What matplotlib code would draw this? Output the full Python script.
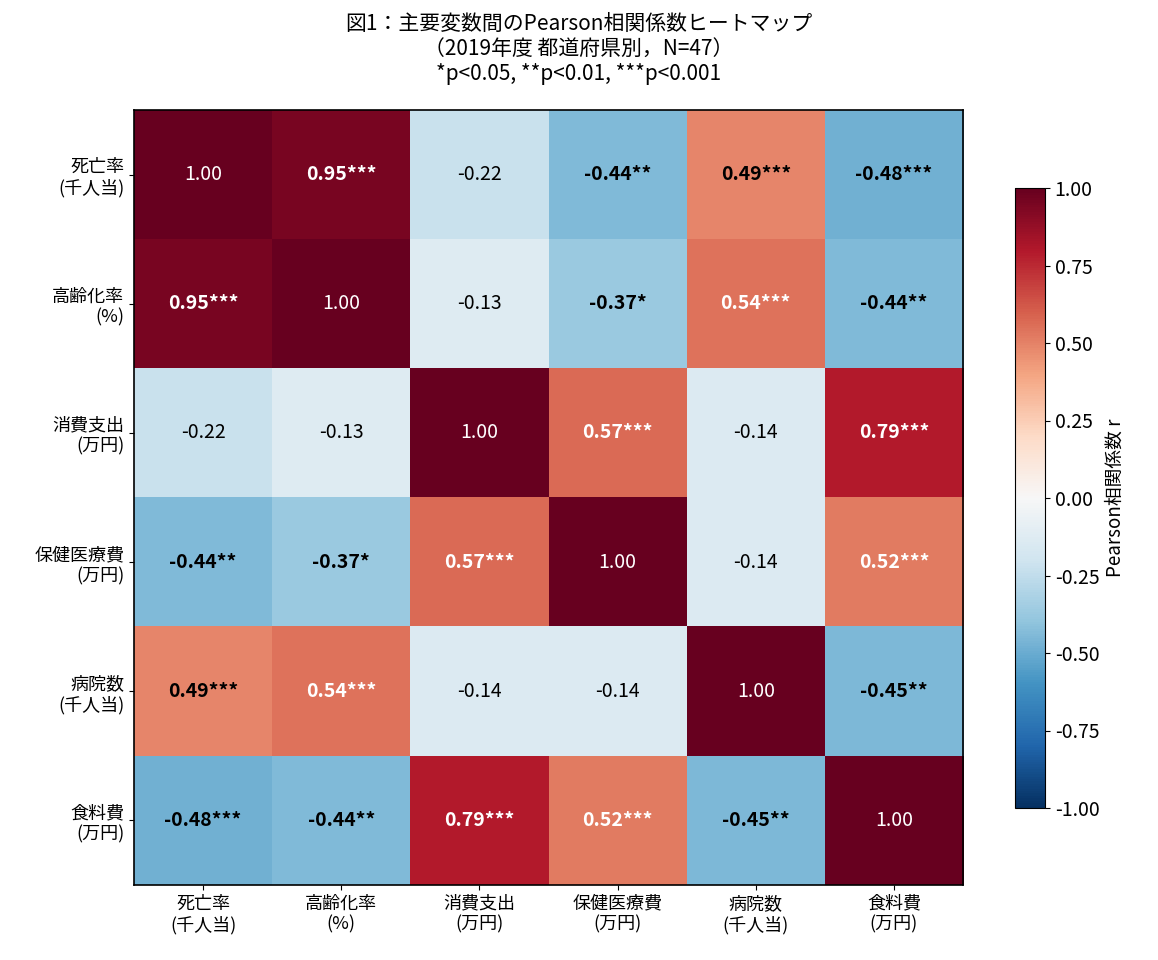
import numpy as np
import matplotlib
matplotlib.use("Agg")
import matplotlib.pyplot as plt

plt.rcParams['font.family'] = ['Noto Sans CJK JP', 'DejaVu Sans']

labels = ["死亡率\n(千人当)", "高齢化率\n(%)", "消費支出\n(万円)",
          "保健医療費\n(万円)", "病院数\n(千人当)", "食料費\n(万円)"]

r = np.array([
    [1.00, 0.95, -0.22, -0.44, 0.49, -0.48],
    [0.95, 1.00, -0.13, -0.37, 0.54, -0.44],
    [-0.22, -0.13, 1.00, 0.57, -0.14, 0.79],
    [-0.44, -0.37, 0.57, 1.00, -0.14, 0.52],
    [0.49, 0.54, -0.14, -0.14, 1.00, -0.45],
    [-0.48, -0.44, 0.79, 0.52, -0.45, 1.00],
])

stars = [
    ["", "***", "", "**", "***", "***"],
    ["***", "", "", "*", "***", "**"],
    ["", "", "", "***", "", "***"],
    ["**", "*", "***", "", "", "***"],
    ["***", "***", "", "", "", "**"],
    ["***", "**", "***", "***", "**", ""],
]

fig = plt.figure(figsize=(11.58, 9.6), dpi=100)
ax = fig.add_axes([134 / 1158, 75 / 960, 829 / 1158, 775 / 960])
cax = fig.add_axes([1015 / 1158, 152 / 960, 30 / 1158, 620 / 960])

im = ax.imshow(r, cmap="RdBu_r", vmin=-1, vmax=1, aspect="auto")

n = len(labels)
for i in range(n):
    for j in range(n):
        v = r[i, j]
        color = "white" if abs(v) > 0.5 else "black"
        weight = "bold" if stars[i][j] else "normal"
        ax.text(j, i, f"{v:.2f}{stars[i][j]}", ha="center", va="center",
                color=color, fontsize=14, fontweight=weight)

ax.set_xticks(range(n))
ax.set_yticks(range(n))
ax.set_xticklabels(labels, fontsize=13)
ax.set_yticklabels(labels, fontsize=13)
for s in ax.spines.values():
    s.set_linewidth(1.2)

cb = fig.colorbar(im, cax=cax)
cb.set_ticks(np.arange(-1, 1.01, 0.25))
cb.ax.set_yticklabels([f"{t:.2f}" for t in np.arange(-1, 1.01, 0.25)])
cb.ax.tick_params(labelsize=14)
cb.set_label("Pearson相関係数 r", fontsize=13.5)

fig.suptitle("図1：主要変数間のPearson相関係数ヒートマップ\n（2019年度 都道府県別，N=47）\n*p<0.05, **p<0.01, ***p<0.001",
             fontsize=15, y=0.986, linespacing=1.15)

fig.savefig("out.png", dpi=100)
